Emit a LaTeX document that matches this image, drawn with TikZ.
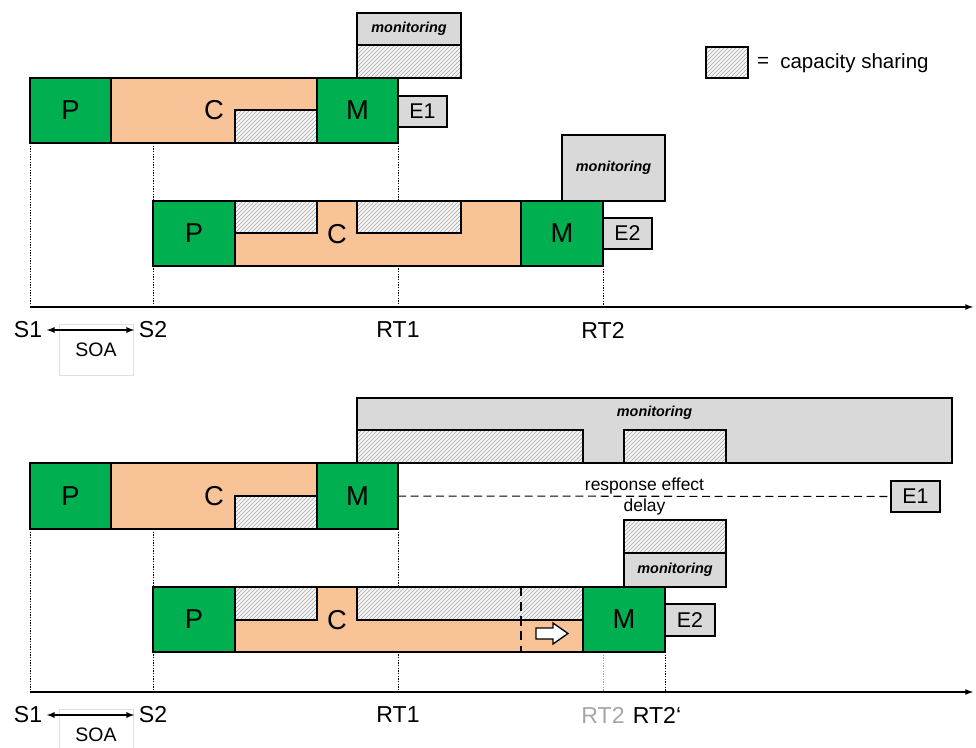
\documentclass[tikz,border=0pt]{standalone}
\usepackage{fontspec}
\setmainfont{Liberation Sans}
\usetikzlibrary{fit,patterns}

\definecolor{pgreen}{RGB}{0,176,80}
\definecolor{corange}{RGB}{248,195,150}
\definecolor{mgray}{RGB}{217,217,217}
\definecolor{hatchbg}{RGB}{244,244,244}
\definecolor{hatchln}{RGB}{170,170,170}

\tikzset{
  stage/.style={draw=black, line width=1.4pt, inner sep=0pt, outer sep=0pt},
  pbox/.style={stage, fill=pgreen},
  cbox/.style={stage, fill=corange},
  mon/.style={stage, fill=mgray},
  ebox/.style={stage, fill=mgray, line width=1.2pt},
  share/.style={stage, preaction={fill=hatchbg}, pattern=north east lines, pattern color=hatchln},
  big/.style={font=\fontsize{20.5}{22}\selectfont},
  etxt/.style={font=\fontsize{16}{18}\selectfont},
  montxt/.style={font=\fontsize{10.8}{12}\selectfont\bfseries\itshape},
  tlabel/.style={font=\fontsize{17.3}{19}\selectfont},
  keytxt/.style={font=\fontsize{15.4}{17}\selectfont, inner sep=0pt},
  tick/.style={line width=0.5pt, dash pattern=on 1pt off 1pt},
  axis/.style={line width=1pt, -latex},
  soabox/.style={draw=black!12, line width=0.4pt, fill=white, font=\fontsize{14.6}{16}\selectfont},
  soaarr/.style={line width=1pt, latex-latex},
  resp/.style={line width=0.8pt, dash pattern=on 6pt off 3.5pt},
  cut/.style={line width=1.5pt, dash pattern=on 7pt off 4pt}
}

\begin{document}
\begin{tikzpicture}[x=0.75pt, y=-0.75pt]
\clip (0,0) rectangle (976,748);

% ---- upper timeline
\foreach \x in {30,153,398}
  \draw[tick] (\x,143) -- (\x,307);
\draw[tick] (603,266) -- (603,307);
\draw[axis] (30,307) -- (973,307);

\node[mon, fit={(357,13) (461,45)}, label={[montxt]center:monitoring}] (mon1) {};
\node[share, fit={(357,45) (461,78)}] (sh1m) {};
\node[cbox, fit={(111,78) (317,143)}, label={[big]center:C}] (c1) {};
\node[share, fit={(235,110) (317,143)}] (sh1) {};
\node[pbox, fit={(30,78) (111,143)}, label={[big]center:P}] (p1) {};
\node[pbox, fit={(317,78) (398,143)}, label={[big]center:M}] (m1) {};
\node[ebox, fit={(398,96) (447,127)}, label={[etxt]center:E1}] (e1) {};

\node[mon, fit={(562,135) (665,201)}, label={[montxt]center:monitoring}] (mon2) {};
\node[cbox, fit={(235,201) (521,266)}] (c2) {};
\node[share, fit={(235,201) (317,233)}] (sh2a) {};
\node[share, fit={(357,201) (461,233)}] (sh2b) {};
\node[big] (c2t) at (337,234) {C};
\node[pbox, fit={(153,201) (235,266)}, label={[big]center:P}] (p2) {};
\node[pbox, fit={(521,201) (603,266)}, label={[big]center:M}] (m2) {};
\node[ebox, fit={(603,218) (652,249)}, label={[etxt]center:E2}] (e2) {};

\node[tlabel] (s1a) at (28,330) {S1};
\node[tlabel] (s2a) at (153,330) {S2};
\node[tlabel] (rt1a) at (398,330) {RT1};
\node[tlabel] (rt2a) at (603,330) {RT2};
\node[soabox, minimum width=55.5pt, minimum height=38pt] (soa1) at (96,349.5) {SOA};
\draw[soaarr] (s1a) -- (s2a);

% legend
\node[share, fit={(706,47) (748,78)}] (key) {};
\node[keytxt] (keyeq) at (763,62) {=};
\node[keytxt, anchor=west] (keylbl) at (780,63) {capacity sharing};

% ---- lower timeline
\foreach \x in {30,153,398}
  \draw[tick] (\x,529) -- (\x,692);
\draw[tick, black!35] (603,652) -- (603,692);
\draw[tick] (665,652) -- (665,692);
\draw[axis] (30,692) -- (973,692);

\node[mon, fit={(357,398) (952,463)}] (mon3) {};
\node[montxt] (mon3t) at (654.5,413) {monitoring};
\node[share, fit={(357,430) (583,463)}] (sh3a) {};
\node[share, fit={(624,430) (726,463)}] (sh3b) {};

\node[cbox, fit={(111,463) (317,529)}, label={[big]center:C}] (c3) {};
\node[share, fit={(235,496) (317,529)}] (sh3c) {};
\node[pbox, fit={(30,463) (111,529)}, label={[big]center:P}] (p3) {};
\node[pbox, fit={(317,463) (398,529)}, label={[big]center:M}] (m3) {};
\node[ebox, fit={(891,481) (940,512)}, label={[etxt]center:E1}] (e3) {};
\path[resp] (m3) edge node[above, inner sep=1.5pt, font=\fontsize{13.1}{15}\selectfont] {response effect}
                      node[below, inner sep=1.5pt, font=\fontsize{13.1}{15}\selectfont] {delay} (e3);

\node[share, fit={(624,520) (726,553)}] (sh4m) {};
\node[mon, fit={(624,553) (726,587)}, label={[montxt]center:monitoring}] (mon4) {};
\node[cbox, fit={(235,587) (583,652)}] (c4) {};
\node[share, fit={(235,587) (317,620)}] (sh4a) {};
\node[share, fit={(357,587) (583,620)}] (sh4b) {};
\node[big] (c4t) at (337,620) {C};
\node[pbox, fit={(153,587) (235,652)}, label={[big]center:P}] (p4) {};
\node[pbox, fit={(583,587) (665,652)}, label={[big]center:M}] (m4) {};
\node[ebox, fit={(665,604) (715,636)}, label={[etxt]center:E2}] (e4) {};
\draw[cut] (521,587) -- (521,652);
\draw[line width=1pt, fill=white, line join=miter]
  (536,628) -- (553,628) -- (553,623) -- (568,633.5) -- (553,644) -- (553,639) -- (536,639) -- cycle;

\node[tlabel] (s1b) at (28,715) {S1};
\node[tlabel] (s2b) at (153,715) {S2};
\node[tlabel] (rt1b) at (398,715) {RT1};
\node[tlabel, text=black!35] (rt2b) at (603,715) {RT2};
\node[tlabel] (rt2c) at (657,715) {RT2‘};
\node[soabox, minimum width=55.5pt, minimum height=38pt] (soa2) at (96,734.5) {SOA};
\draw[soaarr] (s1b) -- (s2b);
\end{tikzpicture}
\end{document}
